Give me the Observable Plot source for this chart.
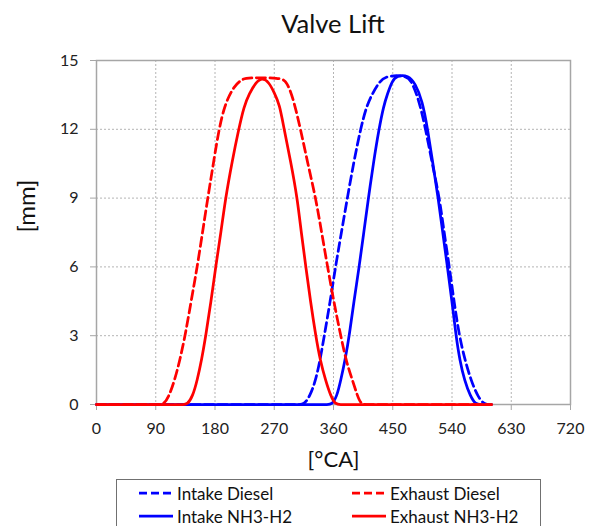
<!DOCTYPE html>
<html>
<head>
<meta charset="utf-8">
<script src="https://cdn.jsdelivr.net/npm/d3@7"></script>
<script src="https://cdn.jsdelivr.net/npm/@observablehq/plot@0.6"></script>
<style>
  body { margin: 0; background: #fff; font-family: Lato, "Open Sans", sans-serif; }
  #wrap { position: relative; width: 592px; height: 526px; overflow: hidden; }
  #chart { position: absolute; left: 0; top: 0; }
  #title { position: absolute; left: 96px; width: 474px; top: 7px; text-align: center;
           font-size: 25.5px; color: #111; line-height: 32px; }
  #legend { position: absolute; left: 116px; top: 479px; width: 425px; height: 60px;
            border: 1.5px solid #707070; box-sizing: border-box; background: #fff; }
  .item { position: absolute; display: flex; align-items: center; height: 22px;
          font-size: 17px; color: #111; white-space: nowrap; }
  .item svg { margin-right: 4px; }
</style>
</head>
<body>
<div id="wrap">
  <div id="chart"></div>
  <div id="title">Valve Lift</div>
  <div id="legend"></div>
</div>
<script>
// Crank angle [°CA] and valve lift [mm] for each valve and fuel case
const intakeDieselDeg  = [0, 290, 300, 308, 315, 324, 333, 340, 346, 355, 363, 372, 381, 391, 401, 410, 419, 430, 442, 472, 480, 490, 500, 510, 521, 528, 536, 543, 551, 560, 569, 579, 589, 596, 600];
const intakeDieselLift = [0, 0, 0, 0, 0, 0.35, 1.05, 2, 3, 4.5, 6, 7.5, 9, 10.6, 12, 13, 13.55, 14.1, 14.35, 14.35, 14.0, 13.25, 12, 10.5, 9, 7.5, 6, 4.5, 3, 1.9, 1.05, 0.35, 0, 0, 0];

const intakeNH3Deg  = [0, 330, 342, 350, 358, 365, 371, 378, 384, 391, 399, 406, 413, 421, 429, 436, 442, 449, 456, 474, 484, 495, 503, 511, 519, 526, 533, 540, 546, 552, 559, 568, 576, 584, 592, 600];
const intakeNH3Lift = [0, 0, 0, 0, 0, 0.35, 1.05, 2, 3, 4.5, 6, 7.5, 9, 10.6, 12, 13, 13.55, 14.1, 14.35, 14.35, 14.0, 13.25, 12, 10.5, 9, 7.5, 6, 4.5, 3, 1.9, 1.05, 0.35, 0, 0, 0, 0];

const exhaustDieselDeg  = [0, 80, 88, 95, 102, 110, 118, 126, 135, 144, 153, 161, 169, 178, 186, 195, 209, 222, 230, 280, 287, 293, 300, 310, 321, 333, 342, 351, 361, 371, 380, 389, 396, 402, 410, 418, 600];
const exhaustDieselLift = [0, 0, 0, 0, 0, 0.35, 1.0, 1.85, 3.05, 4.55, 6, 7.5, 9, 10.6, 12, 13.1, 13.9, 14.2, 14.25, 14.25, 14.1, 13.8, 13.2, 12, 10.5, 9, 7.5, 6, 4.4, 3, 1.8, 1.05, 0.4, 0, 0, 0, 0];

const exhaustNH3Deg  = [0, 115, 124, 131, 138, 146, 153, 160, 166, 174, 181, 189, 196, 206, 216, 224, 232, 242, 252, 262, 270, 278, 285, 295, 305, 311, 318, 325, 333, 340, 348, 356, 363, 371, 379, 600];
const exhaustNH3Lift = [0, 0, 0, 0, 0, 0.35, 1.05, 2, 3, 4.5, 6, 7.5, 9, 10.6, 12, 13, 13.55, 14.05, 14.25, 14.05, 13.6, 13.1, 12, 10.6, 9, 7.5, 6, 4.5, 3, 1.9, 1.05, 0.35, 0, 0, 0, 0];

const seriesNames  = ["Intake Diesel", "Exhaust Diesel", "Intake NH3-H2", "Exhaust NH3-H2"];
const seriesColors = ["#0000ff", "#ff0000", "#0000ff", "#ff0000"];
const seriesDashed = [true, true, false, false];

const xTicks = [0, 90, 180, 270, 360, 450, 540, 630, 720];
const yTicks = [0, 3, 6, 9, 12, 15];

const toRows = (deg, lift) => deg.map((d, i) => ({deg: d, lift: lift[i]}));
const curves = {
  "Intake Diesel": toRows(intakeDieselDeg, intakeDieselLift),
  "Intake NH3-H2": toRows(intakeNH3Deg, intakeNH3Lift),
  "Exhaust Diesel": toRows(exhaustDieselDeg, exhaustDieselLift),
  "Exhaust NH3-H2": toRows(exhaustNH3Deg, exhaustNH3Lift)
};

// intake curves first, exhaust on top
const drawOrder = ["Intake Diesel", "Intake NH3-H2", "Exhaust Diesel", "Exhaust NH3-H2"];
const lineMarks = drawOrder.map(name => {
  const i = seriesNames.indexOf(name);
  return Plot.line(curves[name], {
    x: "deg", y: "lift", curve: "basis",
    stroke: seriesColors[i], strokeWidth: 2.75,
    strokeDasharray: seriesDashed[i] ? "9,4.5" : null
  });
});

const gridStyle = {stroke: "#b4b4b4", strokeOpacity: 1, strokeWidth: 1, strokeDasharray: "2,2"};

const chart = Plot.plot({
  width: 592,
  height: 475,
  marginLeft: 96,
  marginRight: 22,
  marginTop: 60,
  marginBottom: 71,
  style: {fontFamily: "Lato, 'Open Sans', sans-serif", fontSize: "16px", color: "#222", background: "transparent"},
  x: {domain: [0, 720], label: null},
  y: {domain: [0, 15], label: null},
  marks: [
    Plot.gridX(xTicks, gridStyle),
    Plot.gridY(yTicks, gridStyle),
    Plot.frame({stroke: "#a6a6a6", strokeWidth: 1.5}),
    Plot.axisX(xTicks, {tickSize: 6, tickPadding: 12, stroke: "#a6a6a6", fill: "#222", fontSize: 16}),
    Plot.axisY(yTicks, {tickSize: 6, tickPadding: 12, stroke: "#a6a6a6", fill: "#222", fontSize: 16}),
    ...lineMarks,
    Plot.text(["[°CA]"], {frameAnchor: "bottom", dy: 62, fontSize: 22, fill: "#111"}),
    Plot.text(["[mm]"], {frameAnchor: "left", dx: -69, rotate: -90, fontSize: 24, fill: "#111"})
  ]
});
document.getElementById("chart").appendChild(chart);

// legend: two columns, two rows
const legend = document.getElementById("legend");
const legendSlots = {
  "Intake Diesel": [22, 2], "Exhaust Diesel": [235, 2],
  "Intake NH3-H2": [22, 25], "Exhaust NH3-H2": [235, 25]
};
seriesNames.forEach((name, i) => {
  const [left, top] = legendSlots[name];
  const item = document.createElement("div");
  item.className = "item";
  item.style.left = left + "px";
  item.style.top = top + "px";
  const dash = seriesDashed[i] ? ' stroke-dasharray="8,4"' : "";
  item.innerHTML = `<svg width="34" height="10"><line x1="0" y1="5" x2="34" y2="5" stroke="${seriesColors[i]}" stroke-width="2.75"${dash}/></svg><span>${name}</span>`;
  legend.appendChild(item);
});
</script>
</body>
</html>
